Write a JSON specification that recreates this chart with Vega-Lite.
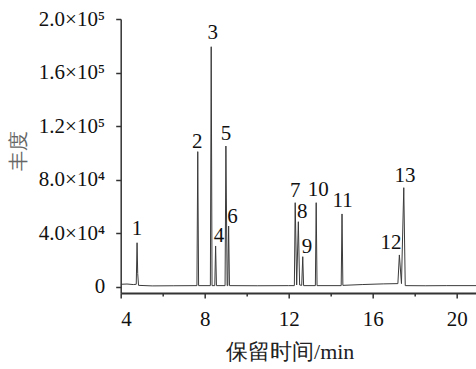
{
  "$schema": "https://vega.github.io/schema/vega-lite/v6.json",
  "width": 357,
  "height": 274,
  "autosize": {"type": "none"},
  "padding": {"left": 120.7, "top": 19, "right": 0, "bottom": 76},
  "background": "white",
  "config": {"view": {"stroke": null}},
  "datasets": {
    "trace": [
      {"t": 4.0, "v": 2000}, {"t": 4.3, "v": 2200}, {"t": 4.6, "v": 1800}, {"t": 4.74, "v": 2000},
      {"t": 4.78, "v": 33000}, {"t": 4.81, "v": 10000}, {"t": 4.85, "v": 1200}, {"t": 5.5, "v": 800},
      {"t": 6.5, "v": 900}, {"t": 7.63, "v": 1000}, {"t": 7.67, "v": 101000}, {"t": 7.71, "v": 1000},
      {"t": 8.27, "v": 1000}, {"t": 8.31, "v": 179300}, {"t": 8.35, "v": 1000}, {"t": 8.48, "v": 1000},
      {"t": 8.52, "v": 30600}, {"t": 8.56, "v": 1000}, {"t": 8.97, "v": 1000}, {"t": 9.01, "v": 105200},
      {"t": 9.07, "v": 1000}, {"t": 9.1, "v": 1000}, {"t": 9.14, "v": 45500}, {"t": 9.18, "v": 1000},
      {"t": 10.5, "v": 900}, {"t": 12.0, "v": 1000}, {"t": 12.27, "v": 1000}, {"t": 12.31, "v": 62900},
      {"t": 12.38, "v": 1500}, {"t": 12.46, "v": 48700}, {"t": 12.52, "v": 1500}, {"t": 12.62, "v": 1200},
      {"t": 12.67, "v": 22600}, {"t": 12.71, "v": 1000}, {"t": 13.27, "v": 1000}, {"t": 13.31, "v": 62900},
      {"t": 13.35, "v": 1000}, {"t": 14.5, "v": 1000}, {"t": 14.54, "v": 54500}, {"t": 14.58, "v": 1200},
      {"t": 15.5, "v": 1800}, {"t": 16.5, "v": 2300}, {"t": 17.2, "v": 2500}, {"t": 17.27, "v": 23900},
      {"t": 17.37, "v": 2500}, {"t": 17.48, "v": 74100}, {"t": 17.55, "v": 1000}, {"t": 18.5, "v": 900},
      {"t": 19.5, "v": 1000}, {"t": 21.0, "v": 1000}
    ],
    "labels": [
      {"label": "1", "lt": 4.78, "lv": 38800},
      {"label": "2", "lt": 7.65, "lv": 103700},
      {"label": "3", "lt": 8.38, "lv": 184900},
      {"label": "4", "lt": 8.68, "lv": 33800},
      {"label": "5", "lt": 9.01, "lv": 109700},
      {"label": "6", "lt": 9.32, "lv": 47500},
      {"label": "7", "lt": 12.31, "lv": 67400},
      {"label": "8", "lt": 12.65, "lv": 51300},
      {"label": "9", "lt": 12.87, "lv": 25600},
      {"label": "10", "lt": 13.41, "lv": 67900},
      {"label": "11", "lt": 14.57, "lv": 59500},
      {"label": "12", "lt": 16.87, "lv": 28400},
      {"label": "13", "lt": 17.54, "lv": 78100}
    ]
  },
  "layer": [
    {
      "data": {"name": "trace"},
      "mark": {"type": "line", "color": "#3a3a3a", "strokeWidth": 1, "clip": true},
      "encoding": {
        "x": {
          "field": "t", "type": "quantitative",
          "scale": {"domain": [4, 21], "nice": false, "zero": false},
          "axis": {
            "values": [4, 6, 8, 10, 12, 14, 16, 18, 20],
            "labelExpr": "datum.value % 4 === 0 ? datum.label : ''",
            "tickSize": {"condition": {"test": "datum.value % 4 === 0", "value": 5}, "value": 3},
            "grid": false,
            "domainColor": "#333333", "domainWidth": 2,
            "tickColor": "#333333", "tickWidth": 1.5,
            "labelFont": "Liberation Serif", "labelFontSize": 21, "labelColor": "#111111", "labelPadding": 11,
            "title": "保留时间/min",
            "titleFont": "Liberation Serif", "titleFontSize": 22, "titleFontWeight": "normal",
            "titleColor": "#222222", "titlePadding": 12, "titleX": 169
          }
        },
        "y": {
          "field": "v", "type": "quantitative",
          "scale": {"domain": [-4500, 200000], "nice": false, "zero": false},
          "axis": {
            "values": [0, 20000, 40000, 60000, 80000, 100000, 120000, 140000, 160000, 180000, 200000],
            "labelExpr": "datum.value === 0 ? '0' : datum.value === 40000 ? '4.0×10⁴' : datum.value === 80000 ? '8.0×10⁴' : datum.value === 120000 ? '1.2×10⁵' : datum.value === 160000 ? '1.6×10⁵' : datum.value === 200000 ? '2.0×10⁵' : ''",
            "tickSize": {"condition": {"test": "datum.value % 40000 === 0", "value": 5}, "value": 3},
            "grid": false,
            "domainColor": "#333333", "domainWidth": 1.5,
            "tickColor": "#333333", "tickWidth": 1.5,
            "labelFont": "Liberation Serif", "labelFontSize": 21, "labelColor": "#111111", "labelPadding": 11,
            "title": "丰度",
            "titleFont": "Liberation Serif", "titleFontSize": 20, "titleFontWeight": "normal",
            "titleColor": "#666666", "titlePadding": 10, "titleY": 131
          }
        }
      }
    },
    {
      "data": {"name": "labels"},
      "mark": {"type": "text", "font": "Liberation Serif", "fontSize": 21, "baseline": "alphabetic", "align": "center", "color": "#111111"},
      "encoding": {
        "x": {"field": "lt", "type": "quantitative"},
        "y": {"field": "lv", "type": "quantitative"},
        "text": {"field": "label"}
      }
    }
  ]
}
